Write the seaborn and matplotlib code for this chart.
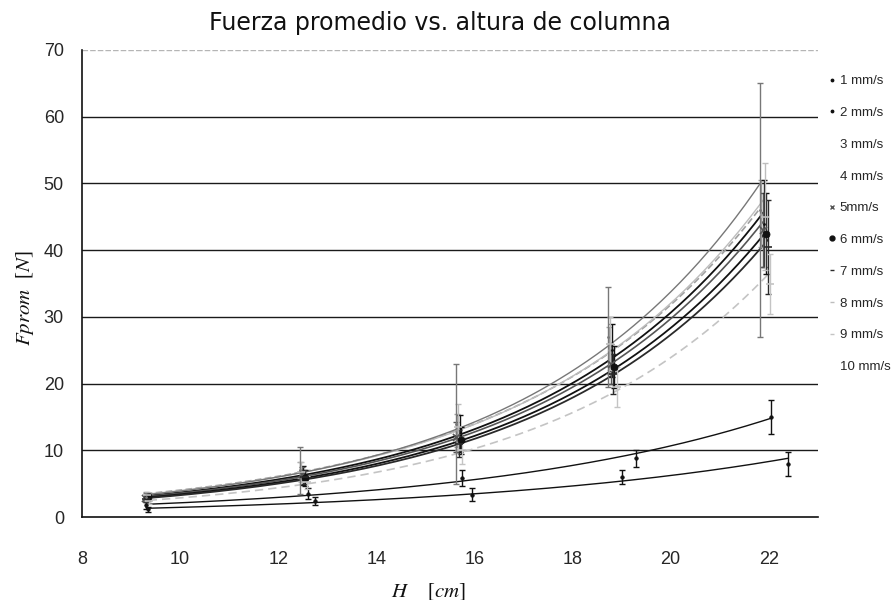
import numpy as np
import pandas as pd
import matplotlib
matplotlib.use("Agg")
import matplotlib.pyplot as plt
from matplotlib.lines import Line2D
import seaborn as sns

# Velocidades de descarga (leyenda)
series_labels = ["1 mm/s", "2 mm/s", "3 mm/s", "4 mm/s", "5mm/s",
                 "6 mm/s", "7 mm/s", "8 mm/s", "9 mm/s", "10 mm/s"]

# Altura de columna H [cm] por serie
h_1 = [9.35, 12.75, 15.95, 19.00, 22.40]
h_2 = [9.30, 12.60, 15.75, 19.30, 22.05]
h_3 = [9.30, 12.45, 15.65, 18.75, 21.85]
h_4 = [9.32, 12.50, 15.70, 18.80, 21.90]
h_5 = [9.28, 12.48, 15.62, 18.78, 21.88]
h_6 = [9.35, 12.55, 15.72, 18.85, 21.95]
h_7 = [9.30, 12.52, 15.68, 18.82, 21.98]
h_8 = [9.33, 12.47, 15.66, 18.77, 21.92]
h_9 = [9.36, 12.58, 15.75, 18.90, 22.02]
h_10 = [9.31, 12.44, 15.63, 18.72, 21.83]

# Fuerza promedio Fprom [N]
f_1 = [1.2, 2.5, 3.4, 6.0, 8.0]
f_2 = [1.8, 3.5, 5.8, 8.8, 15.0]
f_3 = [3.4, 7.0, 13.0, 25.0, 45.5]
f_4 = [3.2, 6.2, 12.5, 25.0, 44.0]
f_5 = [2.9, 6.5, 12.0, 23.0, 43.0]
f_6 = [3.0, 5.8, 11.5, 22.5, 42.5]
f_7 = [2.7, 6.0, 11.0, 21.5, 40.5]
f_8 = [3.3, 6.8, 13.5, 26.0, 45.0]
f_9 = [2.4, 5.2, 10.0, 19.5, 35.0]
f_10 = [3.1, 7.0, 14.0, 27.0, 46.0]

# Desviación (barras de error) [N]
e_1 = [0.4, 0.6, 1.0, 1.1, 1.8]
e_2 = [0.5, 0.8, 1.2, 1.3, 2.5]
e_3 = [0.4, 1.2, 2.5, 3.5, 5.0]
e_4 = [0.5, 1.4, 2.8, 4.0, 6.5]
e_5 = [0.4, 1.0, 2.2, 3.0, 5.5]
e_6 = [0.5, 1.2, 2.0, 3.2, 6.0]
e_7 = [0.4, 1.0, 2.0, 3.0, 7.0]
e_8 = [0.5, 1.5, 3.5, 4.0, 8.0]
e_9 = [0.4, 1.0, 2.0, 3.0, 4.5]
e_10 = [0.6, 3.5, 9.0, 7.5, 19.0]

x_ticks = [8, 10, 12, 14, 16, 18, 20, 22]
y_ticks = [0, 10, 20, 30, 40, 50, 60, 70]

H = [h_1, h_2, h_3, h_4, h_5, h_6, h_7, h_8, h_9, h_10]
F = [f_1, f_2, f_3, f_4, f_5, f_6, f_7, f_8, f_9, f_10]
E = [e_1, e_2, e_3, e_4, e_5, e_6, e_7, e_8, e_9, e_10]

colors = ["#111111", "#111111", "#a0a0a0", "#111111", "#555555",
          "#111111", "#2a2a2a", "#bdbdbd", "#c4c4c4", "#777777"]
markers = [".", ".", "", "", "x", "o", "_", "_", "_", ""]
line_styles = ["-", "-", (0, (4, 2)), "-", "-", "-", "-", "-", (0, (5, 3)), "-"]
line_widths = [1.0, 1.0, 1.2, 1.3, 1.2, 1.3, 1.3, 1.0, 1.2, 1.0]

sns.set_style("white")
sans = ["Liberation Sans", "DejaVu Sans"]
plt.rcParams["font.family"] = sans

fig = plt.figure(figsize=(8.93, 6.0), dpi=100)
ax = fig.add_axes([0.0918, 0.138, 0.824, 0.7787])

rows = []
for lab, h, f, e in zip(series_labels, H, F, E):
    for hi, fi, ei in zip(h, f, e):
        rows.append({"serie": lab, "H": hi, "F": fi, "err": ei})
df = pd.DataFrame(rows)

handles = []
for i, lab in enumerate(series_labels):
    d = df[df["serie"] == lab]
    c = colors[i]
    # barras de error
    ax.errorbar(d["H"], d["F"], yerr=d["err"], fmt="none", ecolor=c,
                elinewidth=1.0, capsize=2.5, capthick=1.0, zorder=3)
    # puntos medidos
    m = markers[i] if markers[i] else "."
    ms = 26 if markers[i] else 8
    if m in ("x", "_"):
        sns.scatterplot(x=d["H"], y=d["F"], marker=m, color=c, s=ms,
                        linewidth=1.2, ax=ax, zorder=4, legend=False)
    else:
        sns.scatterplot(x=d["H"], y=d["F"], marker=m, color=c, s=ms,
                        edgecolor=c, linewidth=0.5, ax=ax, zorder=4,
                        legend=False)
    # línea de tendencia exponencial F = a·exp(b·H)
    b, ln_a = np.polyfit(d["H"], np.log(d["F"]), 1)
    hh = np.linspace(d["H"].min(), d["H"].max(), 200)
    fit = pd.DataFrame({"H": hh, "F": np.exp(ln_a) * np.exp(b * hh)})
    sns.lineplot(data=fit, x="H", y="F", color=c, lw=line_widths[i],
                 linestyle=line_styles[i], ax=ax, zorder=2)
    handles.append(Line2D([], [], lw=0, marker=markers[i] if markers[i] else None,
                          color=c, markersize=3.5, markeredgewidth=1.0))

ax.set_xlim(8, 23)
ax.set_ylim(0, 70)
ax.set_xticks(x_ticks)
ax.set_yticks(y_ticks)
ax.set_xticklabels([str(v) for v in x_ticks], fontsize=13, family=sans)
ax.set_yticklabels([str(v) for v in y_ticks], fontsize=13, family=sans)
ax.tick_params(axis="x", direction="out", length=7, width=1.0, pad=17, color="#222222")
ax.tick_params(axis="y", direction="inout", length=8, width=1.0, pad=9, color="#222222")

# líneas horizontales de la cuadrícula
for v in y_ticks[1:-1]:
    ax.axhline(v, color="#1a1a1a", lw=1.0, zorder=1)
ax.axhline(70, color="#b5b5b5", lw=1.0, ls=(0, (4, 1.5)), zorder=1)

for side in ("top", "right"):
    ax.spines[side].set_visible(False)
for side in ("left", "bottom"):
    ax.spines[side].set_color("#111111")
    ax.spines[side].set_linewidth(1.2)

ax.set_xlabel("")
ax.set_ylabel("")

fig.text(0.493, 0.962, "Fuerza promedio vs. altura de columna", ha="center",
         va="center", fontsize=17, family=["DejaVu Sans"], color="#111111")
fig.text(0.028, 0.503, r"$Fprom$  [$N$]", rotation=90, ha="center", va="center",
         fontsize=15, family=["Liberation Serif"], color="#111111",
         math_fontfamily="stix")
fig.text(0.48, 0.015, r"$\mathbf{\mathit{H}}$    [$\mathbf{\mathit{cm}}$]",
         ha="center", va="center", fontsize=15, family=["Liberation Serif"],
         color="#111111", math_fontfamily="stix")

ax.legend(handles, series_labels, loc="upper left",
          bbox_to_anchor=(0.921, 0.886), bbox_transform=fig.transFigure,
          frameon=False, handlelength=0.5, handletextpad=0.3,
          labelspacing=1.48, borderpad=0,
          prop={"family": sans, "size": 9.5})

fig.savefig("out.png", dpi=100, facecolor="white")
